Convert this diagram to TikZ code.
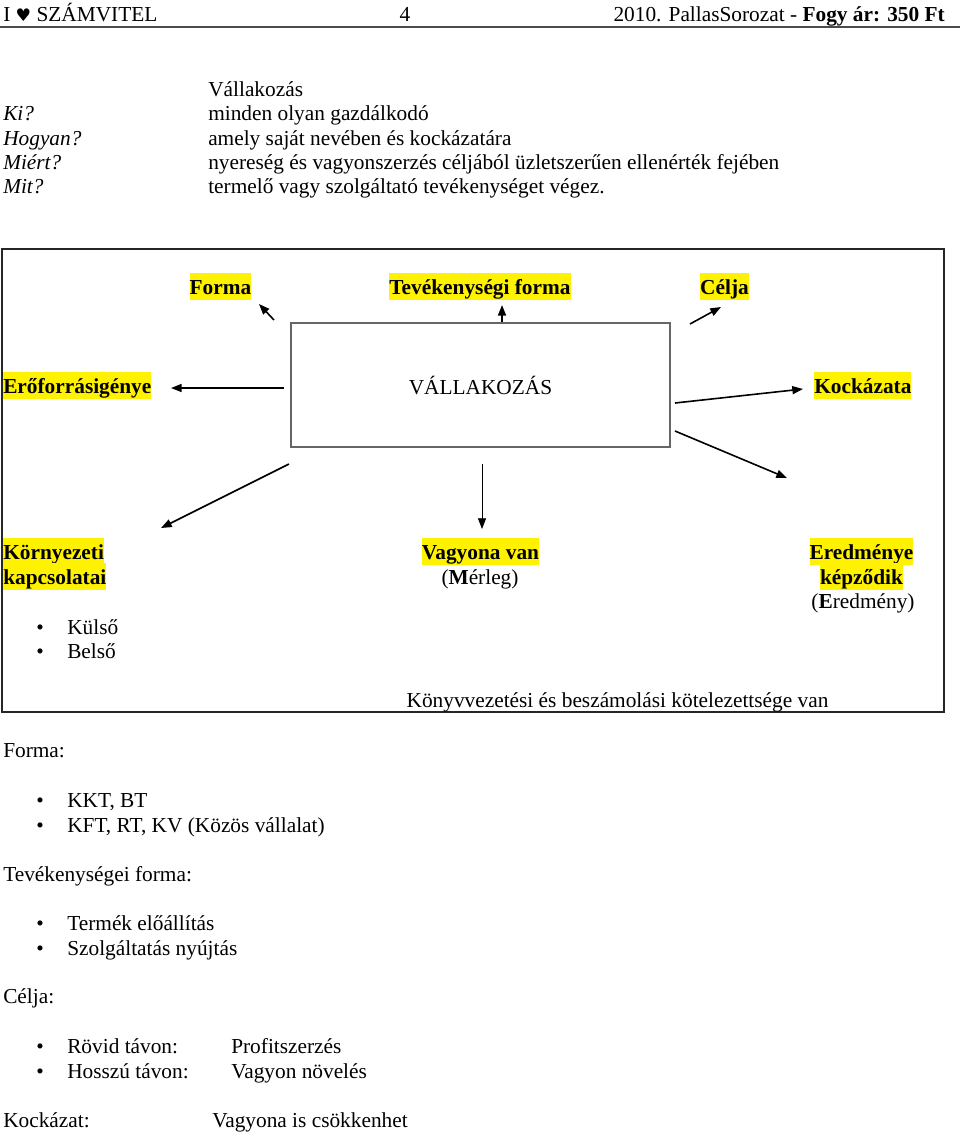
\documentclass[tikz,border=0pt]{standalone}
\usepackage{fontspec}
\setmainfont{Liberation Serif}
\newfontfamily\heartfont{DejaVu Sans}
\usetikzlibrary{positioning}
\usetikzlibrary{calc}
\usetikzlibrary{arrows.meta}

\tikzset{
  txt/.style={anchor=base west},
  hl/.style={fill=yellow, font=\fontsize{16}{19}\selectfont\bfseries,
    text height=15.5pt, text depth=4.5pt},
  arr/.style={-{Triangle[length=8pt,width=6pt]}, line width=1.2pt},
  arrthin/.style={-{Triangle[length=8pt,width=6pt]}, line width=0.6pt},
  blt/.style={anchor=base}
}

\begin{document}
\begin{tikzpicture}[x=0.75pt, y=-0.75pt,
    every node/.style={inner sep=0pt, font=\fontsize{16}{19}\selectfont}]
  \useasboundingbox (0,0) rectangle (960,1133);

  % header
  \node[txt] (hleft) at (3,21) {I {\heartfont\fontsize{13}{15}\selectfont ♥} SZÁMVITEL};
  \node[anchor=base] (hpage) at (405,21) {4};
  \node[anchor=base east] (hright) at (945,21)
    {2010. PallasSorozat - \textbf{Fogy ár: 350 Ft}};
  \draw[line width=1.5pt, black!70] (0,27) -- (960,27);

  % definition
  \node[txt] (d0) at (208,96) {Vállakozás};
  \node[txt, font=\fontsize{16}{19}\selectfont\itshape] (q1) at (3,120) {Ki?};
  \node[txt] (d1) at (208,120) {minden olyan gazdálkodó};
  \node[txt, font=\fontsize{16}{19}\selectfont\itshape] (q2) at (3,145) {Hogyan?};
  \node[txt] (d2) at (208,145) {amely saját nevében és kockázatára};
  \node[txt, font=\fontsize{16}{19}\selectfont\itshape] (q3) at (3,169) {Miért?};
  \node[txt] (d3) at (208,169) {nyereség és vagyonszerzés céljából üzletszerűen ellenérték fejében};
  \node[txt, font=\fontsize{16}{19}\selectfont\itshape] (q4) at (3,193) {Mit?};
  \node[txt] (d4) at (208,193) {termelő vagy szolgáltató tevékenységet végez.};

  % frame
  \draw[line width=1.5pt, black!85] (2,249) rectangle (944,712);
  \node[draw, black!60, line width=0.8pt, minimum width=379*0.75pt,
    minimum height=124*0.75pt, text=black] (vall) at (480.5,385) {VÁLLAKOZÁS};

  % labels round the box
  \node[hl, anchor=base] (forma) at (220.5,294) {Forma};
  \node[hl, anchor=base] (tev) at (480,294) {Tevékenységi forma};
  \node[hl, anchor=base] (celja) at (724.5,294) {Célja};
  \node[hl, anchor=base west] (eroforras) at (3,393) {Erőforrásigénye};
  \node[hl, anchor=base west] (kockazata) at (814,393) {Kockázata};
  \node[hl, anchor=base west] (korny1) at (3,559) {Környezeti};
  \node[hl, anchor=base west] (korny2) at (3,584) {kapcsolatai};
  \node[hl, anchor=base] (vagyona) at (480.5,559) {Vagyona van};
  \node[anchor=base] (merleg) at (480,584) {(\textbf{M}érleg)};
  \node[hl, anchor=base] (ered1) at (861.5,559) {Eredménye};
  \node[hl, anchor=base] (ered2) at (861.5,584) {képződik};
  \node[anchor=base] (ered3) at (863,608) {(\textbf{E}redmény)};
  \node[blt] (b1) at (40,634) {\textbullet};
  \node[txt] (kulso) at (67,634) {Külső};
  \node[blt] (b2) at (40,658) {\textbullet};
  \node[txt] (belso) at (67,658) {Belső};
  \node[anchor=base] (konyv) at (617.5,707)
    {Könyvvezetési és beszámolási kötelezettsége van};

  % arrow ends
  \coordinate (sForma) at (274,320);   \coordinate (eForma) at (259,304);
  \coordinate (sTev) at (502,322);     \coordinate (eTev) at (502,305);
  \coordinate (sCelja) at (690,324);   \coordinate (eCelja) at (721,307);
  \coordinate (sErof) at (284,388);    \coordinate (eErof) at (171,388);
  \coordinate (sKock) at (675,403);    \coordinate (eKock) at (803,389);
  \coordinate (sEred) at (675,431);    \coordinate (eEred) at (787,478);
  \coordinate (sKorny) at (289,464);   \coordinate (eKorny) at (161,528);
  \coordinate (sVagy) at (482,464);    \coordinate (eVagy) at (482,529);

  \draw[arr] (sForma) -- (eForma);
  \draw[arr] (sTev) -- (eTev);
  \draw[arr] (sCelja) -- (eCelja);
  \draw[arr] (sErof) -- (eErof);
  \draw[arr] (sKock) -- (eKock);
  \draw[arr] (sEred) -- (eEred);
  \draw[arr] (sKorny) -- (eKorny);
  \draw[arrthin] (sVagy) -- (eVagy);

  % lists below
  \node[txt] (lforma) at (3,757) {Forma:};
  \node[blt] (b3) at (40,807) {\textbullet};
  \node[txt] (kkt) at (67,807) {KKT, BT};
  \node[blt] (b4) at (40,832) {\textbullet};
  \node[txt] (kft) at (67,832) {KFT, RT, KV (Közös vállalat)};
  \node[txt] (ltev) at (3,881) {Tevékenységei forma:};
  \node[blt] (b5) at (40,930) {\textbullet};
  \node[txt] (termek) at (67,930) {Termék előállítás};
  \node[blt] (b6) at (40,955) {\textbullet};
  \node[txt] (szolg) at (67,955) {Szolgáltatás nyújtás};
  \node[txt] (lcelja) at (3,1003) {Célja:};
  \node[blt] (b7) at (40,1053) {\textbullet};
  \node[txt] (rovid) at (67,1053) {Rövid távon:};
  \node[txt] (profit) at (231,1053) {Profitszerzés};
  \node[blt] (b8) at (40,1078) {\textbullet};
  \node[txt] (hosszu) at (67,1078) {Hosszú távon:};
  \node[txt] (novel) at (231,1078) {Vagyon növelés};
  \node[txt] (lkock) at (3,1127) {Kockázat:};
  \node[txt] (csokk) at (212,1127) {Vagyona is csökkenhet};
\end{tikzpicture}
\end{document}
